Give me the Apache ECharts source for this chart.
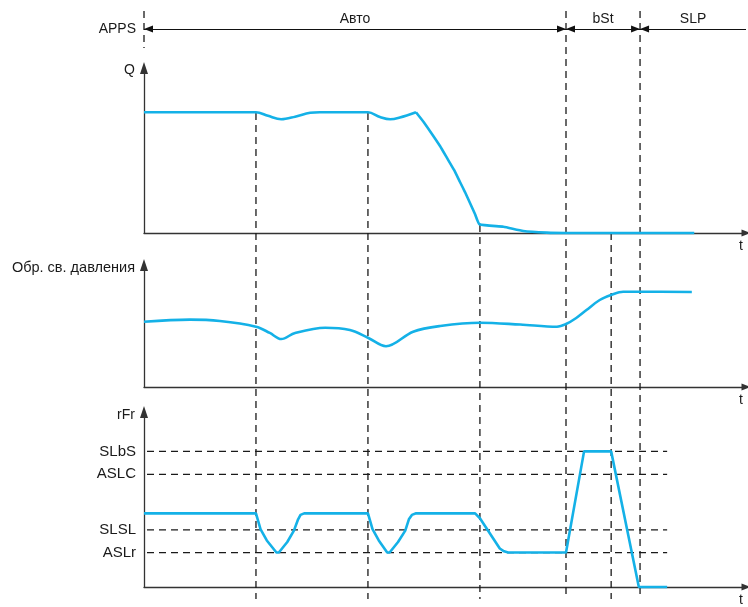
<!DOCTYPE html>
<html><head><meta charset="utf-8">
<script src="https://cdn.jsdelivr.net/npm/echarts@6/dist/echarts.min.js"></script>
<style>html,body{margin:0;padding:0;background:#fff}#c{width:748px;height:607px}</style>
</head><body><div id="c"></div>
<script>
// ---- DATA (time in arbitrary units 0..100, signal levels in % of panel range) ----
const qTime  = [0, 18.6, 20.6, 22.8, 25.1, 27.6, 29.2, 37.2, 39.2, 40.9, 42.5, 45.18, 46.51, 48.0, 49.17, 50.33, 51.5, 52.49, 53.32, 54.15, 54.98, 55.73, 59.7, 63.0, 66.9, 70.1, 91.4];
const qValue = [73.2, 73.2, 71.0, 68.9, 70.5, 72.9, 73.2, 73.2, 70.3, 68.9, 70.0, 73.2, 67.0, 59.1, 52.7, 45.5, 38.2, 30.9, 24.8, 18.2, 11.5, 5.3, 3.8, 1.2, 0.2, 0, 0];
const qPeakTime = 45.18;

const pTime  = [0, 7.6, 12.6, 18.6, 20.9, 22.8, 25.1, 30.1, 34.2, 37.2, 40.2, 44.7, 49.2, 55.8, 62.5, 68.6, 70.1, 71.8, 73.5, 75.7, 77.6, 79.6, 82.4, 91.0];
const pValue = [53.5, 55.2, 54.1, 49.4, 44.3, 39.3, 44.3, 48.6, 46.7, 40.4, 33.4, 45.3, 50.0, 52.7, 51.2, 49.4, 51.6, 56.6, 63.1, 71.3, 75.4, 78.1, 78.1, 77.9];

const rTime  = [0, 18.6, 19.35, 20.4, 22.0, 22.4, 23.8, 24.9, 25.6, 26.0, 26.6, 37.2, 37.96, 39.0, 40.4, 40.8, 42.2, 43.4, 44.0, 44.5, 45.2, 55.0, 55.8, 59.1, 59.8, 60.5, 70.1, 73.1, 77.6, 82.2, 86.9];
const rValue = [42.1, 42.1, 33.1, 26.6, 19.7, 19.7, 25.7, 32.2, 38.7, 41.2, 42.1, 42.1, 33.1, 26.6, 19.7, 19.7, 25.7, 32.2, 38.7, 41.2, 42.1, 42.1, 39.3, 22.0, 20.4, 19.7, 19.7, 77.5, 77.5, 0, 0];

const thresholdNames  = ['SLbS', 'ASLC', 'SLSL', 'ASLr'];
const thresholdValues = [77.5, 64.4, 32.6, 19.7];
const thresholdStart = 0.5, thresholdEnd = 86.9;

const eventTimes = [0, 18.6, 37.2, 55.8, 70.1, 77.6, 82.4];

const phaseNames = ['Авто', 'bSt', 'SLP'];
const phaseStart = [0, 70.1, 82.4];
const phaseEnd   = [70.1, 82.4, 100];

const panelNames = ['Q', 'Обр. св. давления', 'rFr'];

// ---- LAYOUT ----
const W = 748, H = 607, LEFT = 144, RIGHT = 2;
const grids = [ {top: 68, height: 165}, {top: 265, height: 122}, {top: 412, height: 179} ];
const appsY = 29;
const vLineSpan = [[11, 48], [113, 599], [113, 599], [225, 599], [11, 599], [233, 599], [11, 599]];
const FONT = 'Liberation Sans, Arial, sans-serif';
const BLUE = '#14b1e7';
const INK = '#1a1a1a';
const AXIS = '#333';

const zip = (a, b) => a.map((v, i) => [v, b[i]]);

const gridOpt = grids.map(g => ({left: LEFT, right: RIGHT, top: g.top, height: g.height}));
gridOpt.push({left: LEFT, right: RIGHT, top: 0, height: H});

const xAxes = [0,1,2].map(i => ({
  type: 'value', gridIndex: i, min: 0, max: 100,
  axisLine: {show: true, onZero: false, symbol: ['none', 'triangle'], symbolSize: [7, 9], lineStyle: {color: AXIS, width: 1.3}},
  axisTick: {show: false}, axisLabel: {show: false}, splitLine: {show: false},
  name: 't', nameLocation: 'end', nameGap: -5,
  nameTextStyle: {fontFamily: FONT, fontSize: 14, color: INK, align: 'center', verticalAlign: 'top', padding: [6, 0, 0, 0]}
}));
xAxes.push({type: 'value', gridIndex: 3, min: 0, max: 100, show: false});

const nameGaps = [-2, -3, -3];
const yAxes = [0,1,2].map(i => ({
  type: 'value', gridIndex: i, min: 0, max: 100,
  axisLine: {show: true, onZero: false, symbol: ['none', 'triangle'], symbolSize: [8, 12], lineStyle: {color: AXIS, width: 1.3}},
  axisTick: {show: false}, splitLine: {show: false},
  axisLabel: i === 2 ? {
    show: true, customValues: thresholdValues, margin: 8,
    formatter: v => thresholdNames[thresholdValues.indexOf(v)] || '',
    fontFamily: FONT, fontSize: 15, color: INK
  } : {show: false},
  name: panelNames[i], nameLocation: 'end', nameGap: nameGaps[i],
  nameTextStyle: {fontFamily: FONT, fontSize: i === 1 ? 14.5 : 14, color: INK, align: 'right', verticalAlign: 'middle', padding: [0, 9, 0, 0]}
}));
yAxes.push({
  type: 'value', gridIndex: 3, min: 0, max: H, inverse: true,
  axisLine: {show: false}, axisTick: {show: false}, splitLine: {show: false},
  axisLabel: {show: true, customValues: [appsY], formatter: () => 'APPS', margin: 8, fontFamily: FONT, fontSize: 14, color: INK}
});

const series = [];
// event dashed verticals
eventTimes.forEach((t, i) => {
  series.push({
    type: 'line', xAxisIndex: 3, yAxisIndex: 3, z: 1, symbol: 'none', silent: true, clip: false,
    data: [[t, vLineSpan[i][0]], [t, vLineSpan[i][1]]],
    lineStyle: {color: INK, width: 1.3, type: [7, 5]}
  });
});
// threshold dashed lines
thresholdValues.forEach(v => {
  series.push({
    type: 'line', xAxisIndex: 2, yAxisIndex: 2, z: 1, symbol: 'none', silent: true,
    data: [[thresholdStart, v], [thresholdEnd, v]],
    lineStyle: {color: INK, width: 1.3, type: [7, 5]}
  });
});
// phase arrows
series.push({
  type: 'line', xAxisIndex: 3, yAxisIndex: 3, data: [], silent: true,
  markLine: {
    silent: true, animation: false,
    symbol: ['triangle', 'triangle'], symbolSize: [7, 9], symbolOffset: [[0, 4.5], [0, 4.5]],
    lineStyle: {color: '#111', width: 1.2, type: 'solid'},
    label: {show: true, position: 'insideMiddleTop', distance: 3, formatter: '{b}', fontFamily: FONT, fontSize: 14, color: INK},
    emphasis: {disabled: true},
    data: phaseNames.map((n, i) => [
      {coord: [phaseStart[i], appsY], name: n},
      {coord: [phaseEnd[i], appsY], symbol: i === 2 ? 'none' : 'triangle'}
    ])
  }
});
// signals
const qAll = zip(qTime, qValue);
const qSplit = qTime.indexOf(qPeakTime);
series.push({type: 'line', xAxisIndex: 0, yAxisIndex: 0, z: 5, symbol: 'none', smooth: 0.35, clip: false,
  data: qAll.slice(0, qSplit + 1), lineStyle: {color: BLUE, width: 2.6}});
series.push({type: 'line', xAxisIndex: 0, yAxisIndex: 0, z: 5, symbol: 'none', smooth: 0.15, clip: false,
  data: qAll.slice(qSplit), lineStyle: {color: BLUE, width: 2.6}});
series.push({type: 'line', xAxisIndex: 1, yAxisIndex: 1, z: 5, symbol: 'none', smooth: 0.35, clip: false,
  data: zip(pTime, pValue), lineStyle: {color: BLUE, width: 2.6}});
series.push({type: 'line', xAxisIndex: 2, yAxisIndex: 2, z: 5, symbol: 'none', smooth: false, clip: false,
  data: zip(rTime, rValue), lineStyle: {color: BLUE, width: 2.6}});

const chart = echarts.init(document.getElementById('c'), null, {renderer: 'canvas'});
chart.setOption({
  animation: false, backgroundColor: '#fff',
  grid: gridOpt, xAxis: xAxes, yAxis: yAxes, series: series
});
</script></body></html>
